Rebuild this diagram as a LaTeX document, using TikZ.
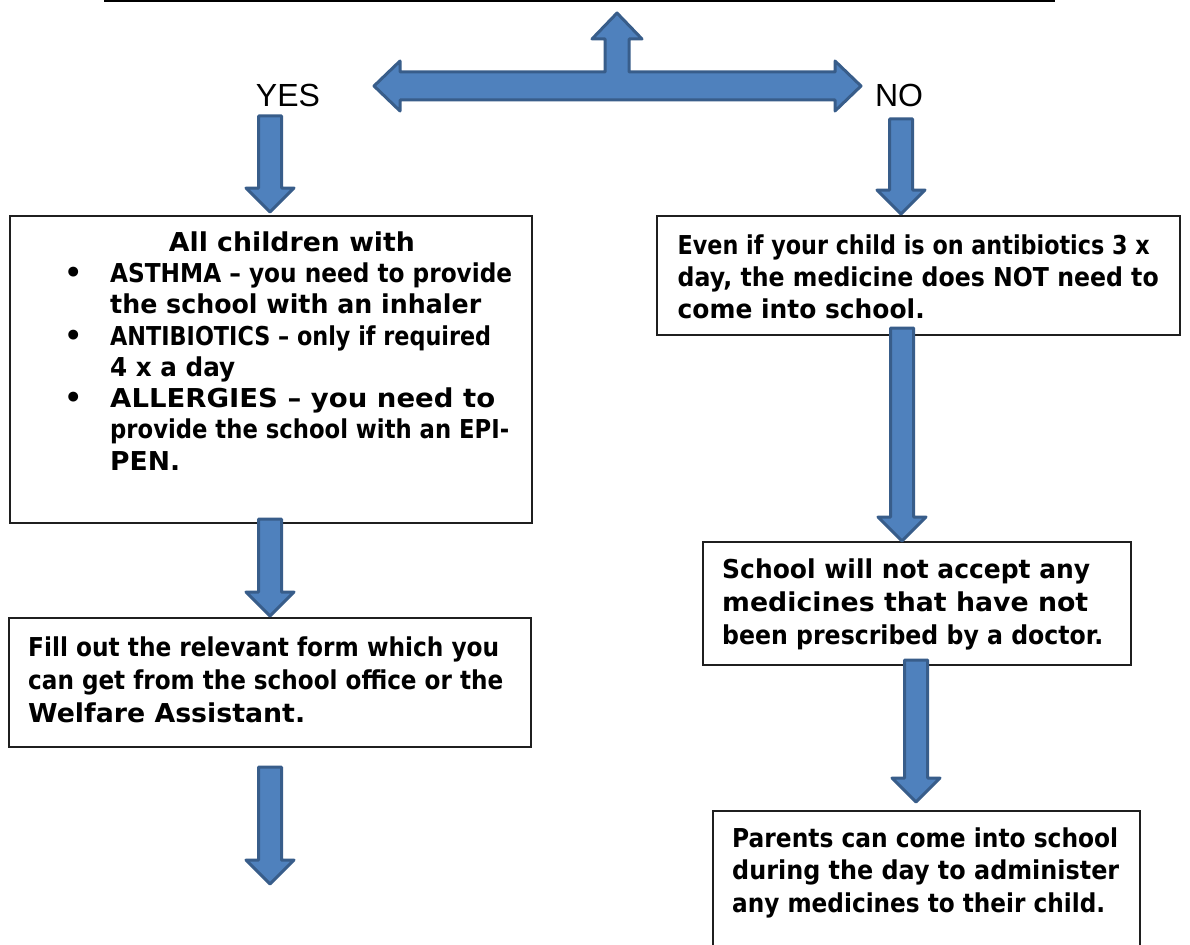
\documentclass[tikz,border=0pt]{standalone}
\usepackage{graphicx}
\usepackage{fontspec}
\setmainfont{DejaVu Sans}
\newfontfamily\labfont{Liberation Sans}
\usetikzlibrary{calc}
\definecolor{ablue}{HTML}{4F81BD}
\definecolor{aedge}{HTML}{385D8A}
\newcommand\fitline[2]{\resizebox{#1pt}{\height}{#2}}
\newcommand\bul{\llap{\fontsize{28}{28}\selectfont\textbullet\hspace{28pt}}}
\newcommand\vblock[2]{%
  \draw[blockarrow] let \p1=(#1), \p2=(#2) in
  (\x1-11.5pt,\y1) -- (\x1+11.5pt,\y1) -- (\x1+11.5pt,\y2+24pt) -- (\x1+24pt,\y2+24pt)
  -- (\x1,\y2) -- (\x1-24pt,\y2+24pt) -- (\x1-11.5pt,\y2+24pt) -- cycle;}
\tikzset{
  box/.style={draw=black!88, line width=1.8pt, fill=white, inner sep=0pt},
  txt/.style={inner sep=0pt, anchor=north west, align=left,
              font=\fontsize{26}{#1}\selectfont\bfseries},
  lab/.style={inner sep=0pt, anchor=base, font=\labfont\fontsize{32}{32}\selectfont},
  blockarrow/.style={fill=ablue, draw=aedge, line width=3pt, line join=round}
}
\begin{document}
\begin{tikzpicture}[x=1pt,y=-1pt]
\useasboundingbox (0,0) rectangle (1190,944);
\clip (0,0) rectangle (1190,944);
\fill[white] (0,0) rectangle (1190,944);

% top line
\coordinate (tl0) at (104,1);
\coordinate (tl1) at (1055,1);
\draw[line width=3pt] (tl0) -- (tl1);

% boxes
\node[box, minimum width=522pt, minimum height=307pt] (b1) at (271,369.5) {};
\node[box, minimum width=522pt, minimum height=129pt] (b2) at (270,682.5) {};
\node[box, minimum width=523pt, minimum height=119pt] (r1) at (918.5,275.5) {};
\node[box, minimum width=428pt, minimum height=123pt] (r2) at (917,603.5) {};
\node[box, minimum width=427pt, minimum height=170pt] (r3) at (926.5,896) {};

% texts
\node[txt=31.3] (b1t) at (110,231.2) {%
\hspace*{58.7pt}\fitline{246}{All children with}\\
\bul\fitline{402}{ASTHMA – you need to provide}\\
\fitline{371}{the school with an inhaler}\\
\bul\fitline{381}{ANTIBIOTICS – only if required}\\
\fitline{125}{4 x a day}\\
\bul\fitline{385}{ALLERGIES – you need to}\\
\fitline{399}{provide the school with an EPI-}\\
\fitline{70}{PEN.}};

\node[txt=33] (b2t) at (28,636.2) {%
\fitline{471}{Fill out the relevant form which you}\\
\fitline{475}{can get from the school office or the}\\
\fitline{277}{Welfare Assistant.}};

\node[txt=32] (r1t) at (677.5,234.2) {%
\fitline{472}{Even if your child is on antibiotics 3 x}\\
\fitline{481}{day, the medicine does NOT need to}\\
\fitline{247}{come into school.}};

\node[txt=33] (r2t) at (722,558.2) {%
\fitline{368}{School will not accept any}\\
\fitline{366}{medicines that have not}\\
\fitline{381}{been prescribed by a doctor.}};

\node[txt=32.5] (r3t) at (732,827.2) {%
\fitline{386}{Parents can come into school}\\
\fitline{387}{during the day to administer}\\
\fitline{373}{any medicines to their child.}};

% labels
\node[lab] (yes) at (288,107) {YES};
\node[lab] (no) at (899,107) {NO};

% three-way arrow
\draw[blockarrow]
  (374,86) -- (400,61) -- (400,72) -- (605,72) -- (605,39) -- (592,39) -- (617,13)
  -- (642,39) -- (629,39) -- (629,72) -- (835,72) -- (835,61) -- (861,86)
  -- (835,111) -- (835,100) -- (400,100) -- (400,111) -- cycle;

% down arrows
\coordinate (a1s) at (270,116);
\coordinate (a1e) at (270,212);
\coordinate (a2s) at (270,519);
\coordinate (a2e) at (270,616);
\coordinate (a3s) at (270,767);
\coordinate (a3e) at (270,884);
\coordinate (c1s) at (901,119);
\coordinate (c1e) at (901,214);
\coordinate (c2s) at (902,328);
\coordinate (c2e) at (902,541);
\coordinate (c3s) at (916,660);
\coordinate (c3e) at (916,802);
\vblock{a1s}{a1e}
\vblock{a2s}{a2e}
\vblock{a3s}{a3e}
\vblock{c1s}{c1e}
\vblock{c2s}{c2e}
\vblock{c3s}{c3e}
\end{tikzpicture}
\end{document}
